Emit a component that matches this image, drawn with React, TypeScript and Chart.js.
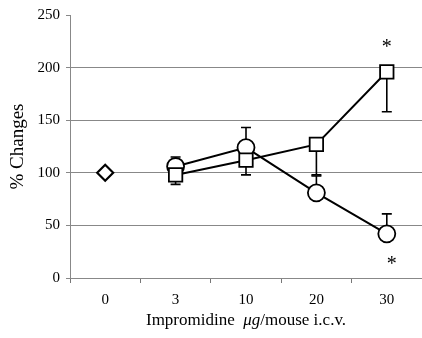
import React, { useEffect, useRef } from "react";
import { Chart, registerables } from "chart.js";

Chart.register(...registerables);

const categories = ["0", "3", "10", "20", "30"];
const controlValues = [100, null, null, null, null];
const circleValues = [null, 106, 124, 81, 42];
const squareValues = [null, 98, 112, 127, 196];
const circleErrTop = [null, 115, 143, 97, 61];
const squareErrBottom = [null, 89, 98, 98, 158];
const yTicks = [0, 50, 100, 150, 200, 250];
const asterisks = [
  { cat: 4, value: 222, dx: 0 },
  { cat: 4, value: 15, dx: 5 },
];
const xTitleParts = [
  { text: "Impromidine  ", italic: false },
  { text: "μg", italic: true },
  { text: "/mouse i.c.v.", italic: false },
];
const yTitle = "% Changes";

const FONT = "'Liberation Serif', 'Times New Roman', serif";

const overlayPlugin = {
  id: "overlay",
  beforeDatasetsDraw(chart: any) {
    const { ctx, scales } = chart;
    const x = scales.x;
    const y = scales.y;
    ctx.save();
    ctx.strokeStyle = "#000";
    ctx.lineWidth = 1.6;
    const cap = 5;
    const drawBar = (i: number, from: number, to: number) => {
      const px = x.getPixelForValue(i);
      const p1 = y.getPixelForValue(from);
      const p2 = y.getPixelForValue(to);
      ctx.beginPath();
      ctx.moveTo(px, p1);
      ctx.lineTo(px, p2);
      ctx.moveTo(px - cap, p2);
      ctx.lineTo(px + cap, p2);
      ctx.stroke();
    };
    circleErrTop.forEach((v, i) => {
      if (v != null && circleValues[i] != null) drawBar(i, circleValues[i] as number, v);
    });
    squareErrBottom.forEach((v, i) => {
      if (v != null && squareValues[i] != null) drawBar(i, squareValues[i] as number, v);
    });
    ctx.restore();
  },
  afterDraw(chart: any) {
    const { ctx, scales, chartArea } = chart;
    const x = scales.x;
    const y = scales.y;
    ctx.save();
    ctx.fillStyle = "#000";
    ctx.font = `20px ${FONT}`;
    ctx.textAlign = "center";
    ctx.textBaseline = "middle";
    asterisks.forEach((a) => {
      ctx.fillText("*", x.getPixelForValue(a.cat) + a.dx, y.getPixelForValue(a.value) + 3);
    });
    const size = 17;
    const parts = xTitleParts.map((p) => {
      ctx.font = `${p.italic ? "italic " : ""}${size}px ${FONT}`;
      return { ...p, w: ctx.measureText(p.text).width };
    });
    const total = parts.reduce((s, p) => s + p.w, 0);
    let cx = (chartArea.left + chartArea.right) / 2 - total / 2;
    ctx.textAlign = "left";
    ctx.textBaseline = "alphabetic";
    const ty = chartArea.bottom + 47;
    parts.forEach((p) => {
      ctx.font = `${p.italic ? "italic " : ""}${size}px ${FONT}`;
      ctx.fillText(p.text, cx, ty);
      cx += p.w;
    });
    ctx.font = `19px ${FONT}`;
    ctx.translate(18, (chartArea.top + chartArea.bottom) / 2);
    ctx.rotate(-Math.PI / 2);
    ctx.textAlign = "center";
    ctx.textBaseline = "middle";
    ctx.fillText(yTitle, 0, 0);
    ctx.restore();
  },
};

export default function App() {
  const ref = useRef<HTMLCanvasElement>(null);
  useEffect(() => {
    if (!ref.current) return;
    const chart = new Chart(ref.current, {
      type: "line",
      data: {
        labels: categories,
        datasets: [
          {
            data: circleValues,
            borderColor: "#000",
            borderWidth: 2,
            pointStyle: "circle",
            pointRadius: 8.5,
            pointBackgroundColor: "#fff",
            pointBorderColor: "#000",
            pointBorderWidth: 1.8,
            order: 3,
          },
          {
            data: squareValues,
            borderColor: "#000",
            borderWidth: 2,
            pointStyle: "rect",
            pointRadius: 9.5,
            pointBackgroundColor: "#fff",
            pointBorderColor: "#000",
            pointBorderWidth: 1.8,
            order: 2,
          },
          {
            data: controlValues,
            borderColor: "#000",
            borderWidth: 2,
            pointStyle: "rectRot",
            pointRadius: 8,
            pointBackgroundColor: "#fff",
            pointBorderColor: "#000",
            pointBorderWidth: 2.2,
            order: 1,
          },
        ],
      },
      options: {
        responsive: false,
        animation: false,
        devicePixelRatio: 1,
        layout: { autoPadding: false, padding: { top: 15, right: 0, left: 0, bottom: 0 } },
        plugins: { legend: { display: false }, tooltip: { enabled: false } },
        scales: {
          x: {
            offset: true,
            grid: {
              offset: true,
              drawOnChartArea: false,
              drawTicks: true,
              tickLength: 5,
              color: "#777",
            },
            border: { color: "#888", width: 1 },
            ticks: {
              color: "#000",
              font: { family: FONT, size: 15 },
              padding: 8,
              maxRotation: 0,
            },
            afterFit: (s: any) => {
              s.height = 60;
            },
          },
          y: {
            min: 0,
            max: 250,
            afterBuildTicks: (s: any) => {
              s.ticks = yTicks.map((v) => ({ value: v }));
            },
            grid: {
              color: (c: any) => (c.tick && (c.tick.value === 250 || c.tick.value === 0) ? "rgba(0,0,0,0)" : "#888"),
              tickColor: "#888",
              tickLength: 4,
              lineWidth: 1,
            },
            border: { color: "#888", width: 1 },
            ticks: {
              color: "#000",
              font: { family: FONT, size: 15 },
              padding: 6,
            },
            afterFit: (s: any) => {
              s.width = 70;
            },
          },
        },
      },
      plugins: [overlayPlugin],
    });
    return () => chart.destroy();
  }, []);
  return (
    <div style={{ position: "fixed", left: 0, top: 0, width: 422, height: 338, background: "#fff" }}>
      <canvas ref={ref} width={422} height={338} />
    </div>
  );
}
